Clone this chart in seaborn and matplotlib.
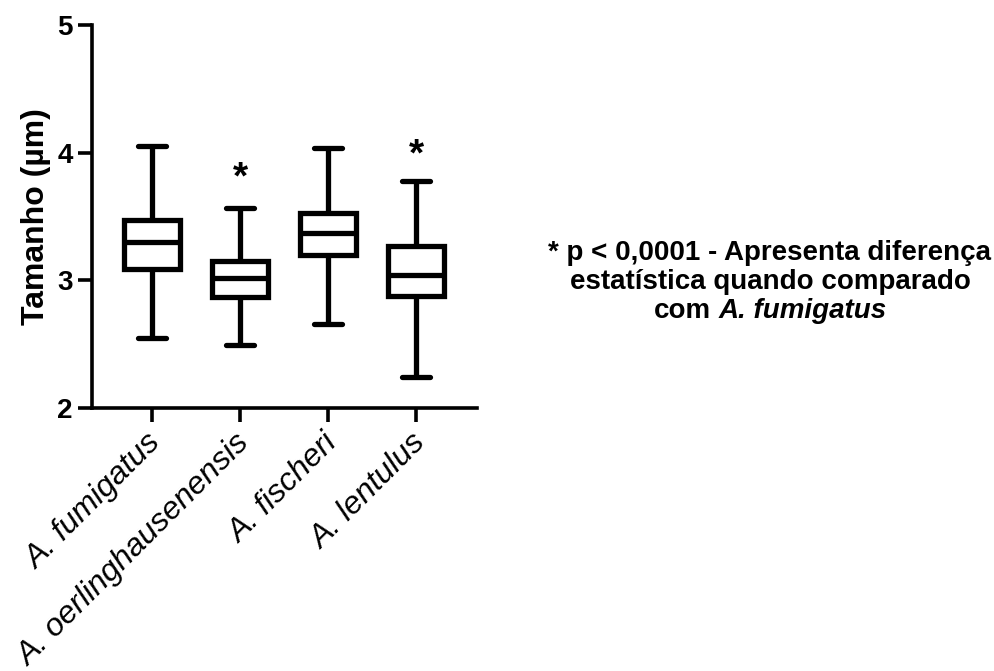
import matplotlib
matplotlib.use("Agg")
import matplotlib.pyplot as plt
import matplotlib.transforms as mtransforms
import seaborn as sns
import pandas as pd

# Data: five-number summaries (min, Q1, median, Q3, max) per species
categories = ["A. fumigatus", "A. oerlinghausenensis", "A. fischeri", "A. lentulus"]
fumigatus = [2.55, 3.09, 3.30, 3.47, 4.05]
oerlinghausenensis = [2.49, 2.87, 3.02, 3.15, 3.57]
fischeri = [2.66, 3.20, 3.37, 3.53, 4.04]
lentulus = [2.24, 2.88, 3.04, 3.27, 3.78]
star_y = [None, 3.72, None, 3.90]
yticks = [2, 3, 4, 5]

sns.set_style("ticks")
plt.rcParams["font.family"] = ["Liberation Sans", "DejaVu Sans"]
for k in ["text.color", "axes.labelcolor", "xtick.color", "ytick.color", "axes.edgecolor"]:
    plt.rcParams[k] = "black"

rows = []
for name, vals in zip(categories, [fumigatus, oerlinghausenensis, fischeri, lentulus]):
    for v in vals:
        rows.append({"grupo": name, "valor": v})
df = pd.DataFrame(rows)

fig = plt.figure(figsize=(9.95, 6.71), dpi=100)
ax = fig.add_axes([92 / 995, 1 - 408 / 671, (477 - 92) / 995, (408 - 25) / 671])

sns.boxplot(data=df, x="grupo", y="valor", order=categories, whis=(0, 100),
            width=0.64, color="white", linecolor="black", linewidth=3.8,
            showfliers=False, ax=ax)

ax.set_xlim(-0.68, 3.69)
ax.set_ylim(2, 5)
ax.set_yticks(yticks)
ax.set_yticklabels([str(t) for t in yticks], fontsize=20, fontweight="bold")
ax.set_xticks(range(len(categories)))
ax.set_xticklabels(categories, fontsize=23, fontstyle="italic", rotation=45,
                   ha="right", rotation_mode="anchor", va="center")
ax.set_xlabel("")
ax.set_ylabel("Tamanho (µm)", fontsize=23, fontweight="bold", labelpad=4)

for side in ["top", "right"]:
    ax.spines[side].set_visible(False)
for side in ["left", "bottom"]:
    ax.spines[side].set_linewidth(2.6)
    ax.spines[side].set_color("black")
ax.tick_params(axis="both", width=2.6, length=10, color="black", pad=4)
ax.tick_params(axis="x", pad=8)

offset = mtransforms.ScaledTranslation(5 / 100, -6 / 100, fig.dpi_scale_trans)
for lab in ax.get_xticklabels():
    lab.set_transform(lab.get_transform() + offset)

for i, sy in enumerate(star_y):
    if sy is not None:
        ax.text(i, sy, "*", ha="center", va="baseline", fontsize=28,
                fontweight="bold", color="black", clip_on=False)

# Right-hand note
cx = 770 / 995
fs = 20
fig.text(cx, 1 - 253 / 671, "* p < 0,0001 - Apresenta diferença", ha="center",
         va="center", fontsize=fs, fontweight="bold")
fig.text(cx, 1 - 282 / 671, "estatística quando comparado", ha="center",
         va="center", fontsize=fs, fontweight="bold")
y3 = 1 - 311 / 671
t1 = fig.text(cx, y3, "com", ha="left", va="center", fontsize=fs, fontweight="bold")
t2 = fig.text(cx, y3, "A. fumigatus", ha="left", va="center", fontsize=fs,
              fontweight="bold", fontstyle="italic")
fig.canvas.draw()
r = fig.canvas.get_renderer()
w1 = t1.get_window_extent(r).width
w2 = t2.get_window_extent(r).width
gap = 0.278 * fs * 100 / 72
total = w1 + gap + w2
left = cx * 995 - total / 2
t1.set_x(left / 995)
t2.set_x((left + w1 + gap) / 995)

fig.savefig("out.png", dpi=100)
